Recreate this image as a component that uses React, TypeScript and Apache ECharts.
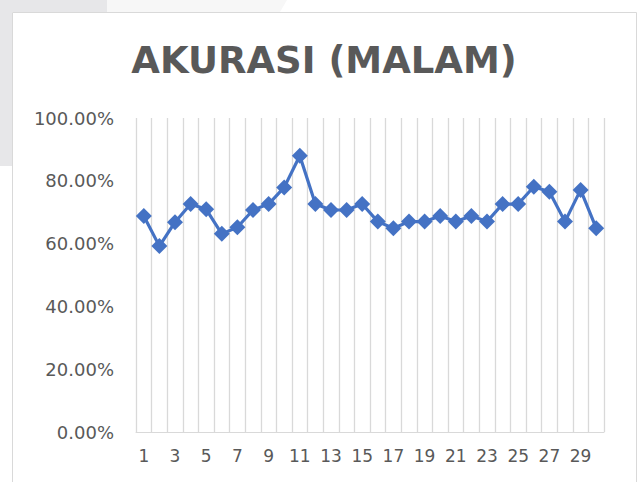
import React, { useEffect, useRef } from "react";
import * as echarts from "echarts";

const titleText = "AKURASI (MALAM)";
const categories = Array.from({ length: 30 }, (_, i) => String(i + 1));
const accuracy = [
  0.688, 0.592, 0.668, 0.726, 0.709, 0.631, 0.652, 0.707, 0.726, 0.779,
  0.88, 0.726, 0.707, 0.707, 0.726, 0.67, 0.649, 0.67, 0.67, 0.688,
  0.67, 0.688, 0.67, 0.726, 0.726, 0.781, 0.765, 0.67, 0.771, 0.649,
];

export default function App() {
  const ref = useRef<HTMLDivElement>(null);
  useEffect(() => {
    if (!ref.current) return;
    const chart = echarts.init(ref.current, null, { renderer: "svg" });
    const font = "DejaVu Sans";
    chart.setOption({
      animation: false,
      backgroundColor: "#ffffff",
      graphic: [
        { type: "rect", z: -10, shape: { x: 0, y: 0, width: 12, height: 166 }, style: { fill: "#e7e7e9" } },
        { type: "rect", z: -10, shape: { x: 0, y: 0, width: 107, height: 12 }, style: { fill: "#e7e7e9" } },
        { type: "polygon", z: -10, shape: { points: [[107, 0], [287, 0], [280, 12], [107, 12]] }, style: { fill: "#f7f7f7" } },
        { type: "rect", z: -9, shape: { x: 12.5, y: 12.5, width: 624, height: 480 }, style: { fill: "#ffffff", stroke: "#d9d9d9", lineWidth: 1 } },
        {
          type: "text",
          x: 324,
          y: 60,
          style: {
            text: titleText,
            fontFamily: font,
            fontWeight: "bold",
            fontSize: 37,
            fill: "#595959",
            align: "center",
            verticalAlign: "middle",
          },
        },
      ],
      grid: { left: 136, right: 36, top: 118, bottom: 50 },
      xAxis: {
        type: "category",
        data: categories,
        boundaryGap: true,
        axisLine: { show: true, lineStyle: { color: "#d9d9d9", width: 1 } },
        axisTick: { show: false },
        splitLine: { show: true, interval: 0, lineStyle: { color: "#d9d9d9", width: 1.3 } },
        axisLabel: { interval: 1, color: "#595959", fontFamily: font, fontSize: 17, margin: 15 },
      },
      yAxis: {
        type: "value",
        min: 0,
        max: 1,
        interval: 0.2,
        axisLine: { show: false },
        axisTick: { show: false },
        splitLine: { show: false },
        axisLabel: {
          color: "#595959",
          fontFamily: font,
          fontSize: 18,
          margin: 22,
          formatter: (v: number) => (v * 100).toFixed(2) + "%",
        },
      },
      series: [
        {
          type: "line",
          data: accuracy,
          symbol: "diamond",
          symbolSize: 16,
          showAllSymbol: true,
          lineStyle: { color: "#4472c4", width: 3.2 },
          itemStyle: { color: "#4472c4" },
        },
      ],
    });
    return () => chart.dispose();
  }, []);
  return (
    <div
      ref={ref}
      style={{ position: "absolute", left: 0, top: 0, width: 640, height: 482 }}
    />
  );
}
